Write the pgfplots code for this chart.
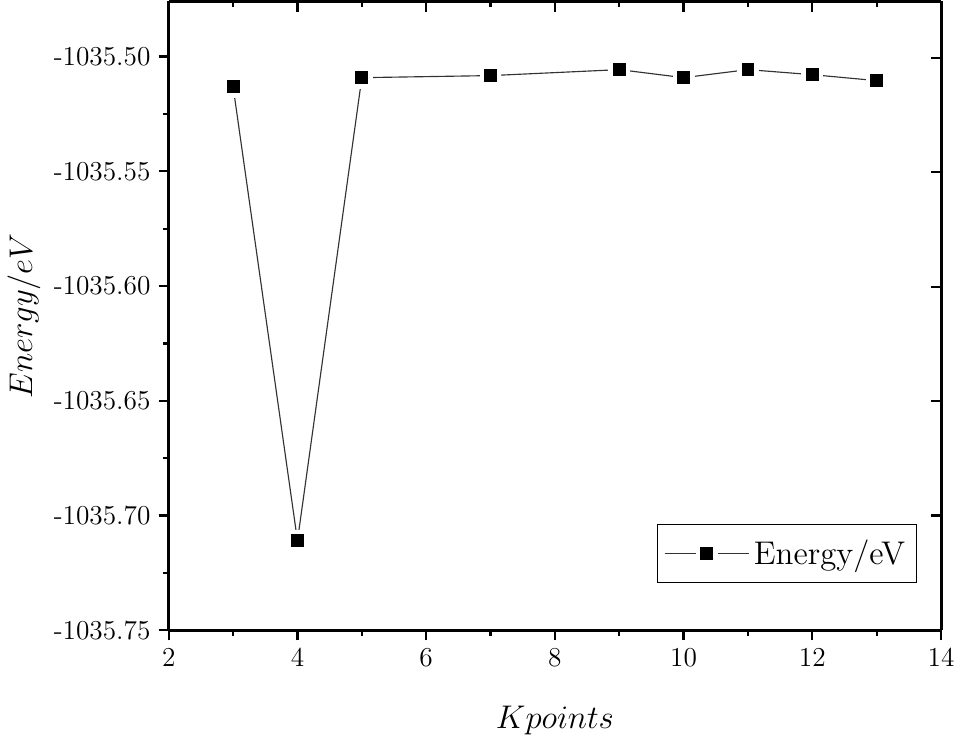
\documentclass[border=0pt]{standalone}
\usepackage{pgfplots}
\pgfplotsset{compat=1.18}

\begin{document}
\begin{tikzpicture}
\pgfplotsset{
  frame/.style={
    scale only axis, width=339pt, height=276pt,
    xmin=2, xmax=14, ymin=-1035.75, ymax=-1035.476,
    xtick={2,4,...,14}, minor x tick num=1,
    ytick={-1035.75,-1035.70,...,-1035.50}, minor y tick num=1,
    major tick length=4.5pt, minor tick length=2.5pt,
    every tick/.style={black, line width=1pt},
  }
}
% mirrored ticks on top and right, pointing inward
\begin{scope}[overlay]
\begin{axis}[frame,
    axis x line*=top, axis y line*=right,
    tick align=inside,
    xticklabels={}, yticklabels={},
    axis line style={line width=1.3pt, -},
]
\end{axis}
\end{scope}
\begin{axis}[frame,
    axis x line*=bottom, axis y line*=left,
    tick align=outside,
    axis line style={line width=1.3pt, -},
    ytick={-1035.75,-1035.70,-1035.65,-1035.60,-1035.55,-1035.50},
    yticklabel style={/pgf/number format/fixed, /pgf/number format/fixed zerofill,
      /pgf/number format/precision=2, /pgf/number format/1000 sep={},
      /pgf/number format/assume math mode=true, font=\large},
    xticklabel={\large\pgfmathprintnumber[assume math mode=true]{\tick}},
    xlabel={$Kpoints$}, ylabel={$Energy/eV$},
    xlabel style={font=\Large, yshift=-10pt},
    ylabel style={font=\Large, yshift=-1pt},
    legend style={at={(0.969,0.075)}, anchor=south east, draw=black,
      line width=0.5pt, font=\Large, inner xsep=3pt, inner ysep=4.5pt},
    legend image code/.code={%
      \draw[#1, mark repeat=2, mark phase=2]
        plot coordinates {(0cm,0cm) (0.65cm,0cm) (1.3cm,0cm)};},
    legend cell align=left,
]
\addplot[black!80, line width=0.5pt, mark=square*,
  mark options={fill=black, draw=white, line width=2pt, mark size=3.8pt}]
  coordinates {
  (3,-1035.5132)
  (4,-1035.7110)
  (5,-1035.5092)
  (7,-1035.5083)
  (9,-1035.5057)
  (10,-1035.5092)
  (11,-1035.5057)
  (12,-1035.5079)
  (13,-1035.5105)
};
\addlegendentry{Energy/eV}
\end{axis}
\end{tikzpicture}
\end{document}
